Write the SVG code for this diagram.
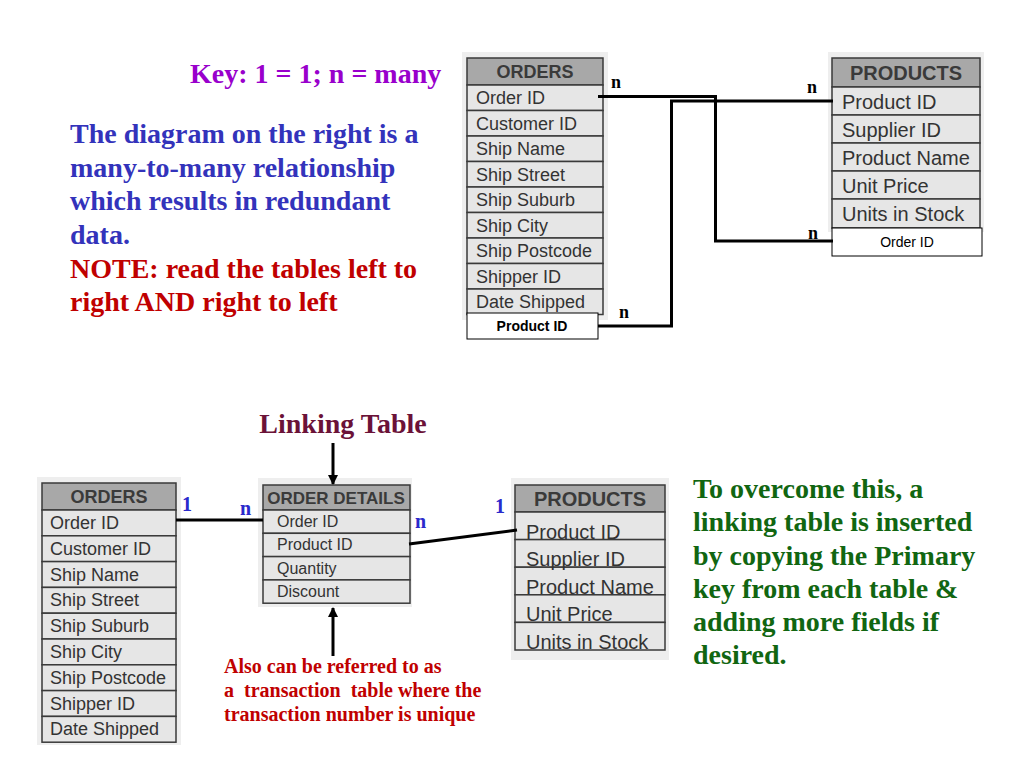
<svg xmlns="http://www.w3.org/2000/svg" width="1024" height="768" viewBox="0 0 1024 768">
<defs>
<marker id="ah" markerWidth="10" markerHeight="10" refX="9" refY="5" orient="auto" markerUnits="userSpaceOnUse">
<path d="M0,0 L10,5 L0,10 z" fill="#000"/>
</marker>
<style>
.bg{fill:#eeeeee}
.hd{fill:#a8a8a8;stroke:#3a3a3a;stroke-width:1.5}
.rw{fill:#e6e6e6;stroke:#3a3a3a;stroke-width:1.5}
.ht{font-family:"Liberation Sans",Arial,sans-serif;font-weight:bold;fill:#3a3a3a;text-anchor:middle}
.ft{font-family:"Liberation Sans",Arial,sans-serif;fill:#333}
.bx{fill:#fff;stroke:#000;stroke-width:1}
.bt{font-family:"Liberation Sans",Arial,sans-serif;font-size:14px;fill:#000;text-anchor:middle}
.tm{font-family:"Liberation Serif","Times New Roman",serif;font-weight:bold}
.nk{font-size:18px;fill:#000}
.nb{font-size:20px;fill:#2a2acc}
.ln{fill:none;stroke:#000;stroke-width:3}
</style>
</defs>
<rect width="1024" height="768" fill="#fff"/>

<text class="tm" x="190" y="83" font-size="28" fill="#9900cc">Key: 1 = 1; n = many</text>
<g class="tm" font-size="28" fill="#3333bb">
<text x="70" y="143">The diagram on the right is a</text>
<text x="70" y="177">many-to-many relationship</text>
<text x="70" y="210">which results in redundant</text>
<text x="70" y="244">data.</text>
</g>
<g class="tm" font-size="28" fill="#c00000">
<text x="70" y="278">NOTE: read the tables left to</text>
<text x="70" y="311">right AND right to left</text>
</g>

<g id="orders-top">
<rect class="bg" x="462" y="52" width="146" height="268"/>
<rect class="hd" x="467" y="58" width="136" height="27"/>
<text class="ht" x="535" y="78" font-size="18">ORDERS</text>
<rect class="rw" x="467" y="85" width="136" height="25.5"/>
<rect class="rw" x="467" y="110.5" width="136" height="25.5"/>
<rect class="rw" x="467" y="136" width="136" height="25.5"/>
<rect class="rw" x="467" y="161.5" width="136" height="25.5"/>
<rect class="rw" x="467" y="187" width="136" height="25.5"/>
<rect class="rw" x="467" y="212.5" width="136" height="25.5"/>
<rect class="rw" x="467" y="238" width="136" height="25.5"/>
<rect class="rw" x="467" y="263.5" width="136" height="25.5"/>
<rect class="rw" x="467" y="289" width="136" height="25.5"/>
<g class="ft" font-size="18">
<text x="476" y="104">Order ID</text>
<text x="476" y="129.5">Customer ID</text>
<text x="476" y="155">Ship Name</text>
<text x="476" y="180.5">Ship Street</text>
<text x="476" y="206">Ship Suburb</text>
<text x="476" y="231.5">Ship City</text>
<text x="476" y="257">Ship Postcode</text>
<text x="476" y="282.5">Shipper ID</text>
<text x="476" y="308">Date Shipped</text>
</g>
<rect class="bx" x="467" y="313" width="131" height="26"/>
<text class="bt" x="532" y="331" font-weight="bold">Product ID</text>
</g>

<g id="products-top">
<rect class="bg" x="828" y="52" width="156" height="180"/>
<rect class="hd" x="832" y="58" width="148" height="29"/>
<text class="ht" x="906" y="80" font-size="20">PRODUCTS</text>
<rect class="rw" x="832" y="87" width="148" height="28"/>
<rect class="rw" x="832" y="115" width="148" height="28"/>
<rect class="rw" x="832" y="143" width="148" height="28"/>
<rect class="rw" x="832" y="171" width="148" height="28"/>
<rect class="rw" x="832" y="199" width="148" height="29"/>
<g class="ft" font-size="20">
<text x="842" y="109">Product ID</text>
<text x="842" y="137">Supplier ID</text>
<text x="842" y="165">Product Name</text>
<text x="842" y="193">Unit Price</text>
<text x="842" y="221">Units in Stock</text>
</g>
<rect class="bx" x="832" y="228" width="150" height="28"/>
<text class="bt" x="907" y="247">Order ID</text>
</g>

<g id="connectors-top">
<polyline class="ln" points="598,96.5 715.5,96.5 715.5,241 833,241"/>
<polyline class="ln" points="833,101 671.5,101 671.5,326 598,326"/>
<g class="tm nk">
<text x="611" y="88">n</text>
<text x="807" y="93">n</text>
<text x="808" y="239">n</text>
<text x="619" y="318">n</text>
</g>
</g>

<text class="tm" x="343" y="433" font-size="28" fill="#6b1238" text-anchor="middle">Linking Table</text>

<g id="orders-bottom">
<rect class="bg" x="37" y="477" width="144" height="268"/>
<rect class="hd" x="42" y="483" width="134" height="27"/>
<text class="ht" x="109" y="503" font-size="18">ORDERS</text>
<rect class="rw" x="42" y="510" width="134" height="25.8"/>
<rect class="rw" x="42" y="535.8" width="134" height="25.8"/>
<rect class="rw" x="42" y="561.6" width="134" height="25.8"/>
<rect class="rw" x="42" y="587.4" width="134" height="25.8"/>
<rect class="rw" x="42" y="613.2" width="134" height="25.8"/>
<rect class="rw" x="42" y="639" width="134" height="25.8"/>
<rect class="rw" x="42" y="664.8" width="134" height="25.8"/>
<rect class="rw" x="42" y="690.6" width="134" height="25.8"/>
<rect class="rw" x="42" y="716.4" width="134" height="25.8"/>
<g class="ft" font-size="18">
<text x="50" y="529">Order ID</text>
<text x="50" y="555">Customer ID</text>
<text x="50" y="581">Ship Name</text>
<text x="50" y="606">Ship Street</text>
<text x="50" y="632">Ship Suburb</text>
<text x="50" y="658">Ship City</text>
<text x="50" y="684">Ship Postcode</text>
<text x="50" y="710">Shipper ID</text>
<text x="50" y="735">Date Shipped</text>
</g>
</g>

<g id="order-details">
<rect class="bg" x="258" y="478" width="154" height="129"/>
<rect class="hd" x="263" y="485" width="147" height="25"/>
<text class="ht" x="336" y="504" font-size="17">ORDER DETAILS</text>
<rect class="rw" x="263" y="510" width="147" height="23.3"/>
<rect class="rw" x="263" y="533.3" width="147" height="23.3"/>
<rect class="rw" x="263" y="556.6" width="147" height="23.3"/>
<rect class="rw" x="263" y="579.9" width="147" height="23.3"/>
<g class="ft" font-size="16">
<text x="277" y="527">Order ID</text>
<text x="277" y="550">Product ID</text>
<text x="277" y="574">Quantity</text>
<text x="277" y="597">Discount</text>
</g>
</g>

<g id="products-bottom">
<rect class="bg" x="511" y="478" width="158" height="182"/>
<rect class="hd" x="515" y="485" width="150" height="27"/>
<text class="ht" x="590" y="506" font-size="20">PRODUCTS</text>
<rect class="rw" x="515" y="512" width="150" height="27.6"/>
<rect class="rw" x="515" y="539.6" width="150" height="27.6"/>
<rect class="rw" x="515" y="567.2" width="150" height="27.6"/>
<rect class="rw" x="515" y="594.8" width="150" height="27.6"/>
<rect class="rw" x="515" y="622.4" width="150" height="27.6"/>
<g class="ft" font-size="20">
<text x="526" y="539">Product ID</text>
<text x="526" y="566">Supplier ID</text>
<text x="526" y="594">Product Name</text>
<text x="526" y="621">Unit Price</text>
<text x="526" y="649">Units in Stock</text>
</g>
</g>

<g id="connectors-bottom">
<line class="ln" x1="176" y1="520" x2="263" y2="520"/>
<line class="ln" x1="409" y1="544" x2="517" y2="530"/>
<line x1="333" y1="443" x2="333" y2="484" stroke="#000" stroke-width="3" marker-end="url(#ah)"/>
<line x1="333" y1="656" x2="333" y2="608" stroke="#000" stroke-width="3" marker-end="url(#ah)"/>
<g class="tm nb">
<text x="182" y="511">1</text>
<text x="240" y="515">n</text>
<text x="415" y="528">n</text>
<text x="495" y="513">1</text>
</g>
</g>

<g class="tm" font-size="20" fill="#c00000">
<text x="224" y="673">Also can be referred to as</text>
<text x="224" y="697" xml:space="preserve">a  transaction  table where the</text>
<text x="224" y="721">transaction number is unique</text>
</g>

<g class="tm" font-size="28" fill="#116611">
<text x="693" y="498">To overcome this, a</text>
<text x="693" y="531">linking table is inserted</text>
<text x="693" y="565">by copying the Primary</text>
<text x="693" y="598">key from each table &amp;</text>
<text x="693" y="631">adding more fields if</text>
<text x="693" y="664">desired.</text>
</g>
</svg>
